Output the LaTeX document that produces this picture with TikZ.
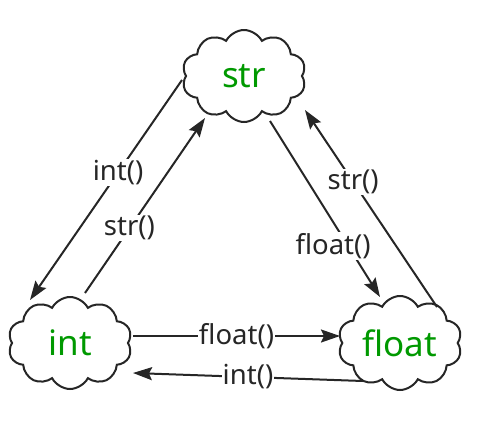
\documentclass[tikz,border=0pt]{standalone}
\usepackage{fontspec}
\setmainfont{Noto Sans}
\usetikzlibrary{shapes.symbols,arrows.meta}
\definecolor{ink}{HTML}{262626}
\definecolor{typegreen}{HTML}{009900}
\tikzset{
  typecloud/.style={cloud, cloud puffs=10, cloud puff arc=125, aspect=1.35,
    draw=ink, line width=2pt, fill=white,
    minimum width=124pt, minimum height=92pt, inner sep=0pt,
    text=typegreen, font=\fontsize{35}{37}\selectfont},
  conv/.style={draw=ink, line width=2pt,
    -{Stealth[length=19pt,width=13pt,inset=3pt]}},
  convlabel/.style={fill=white, text=ink, inner sep=1pt,
    font=\fontsize{27.5}{29}\selectfont}
}
\begin{document}
\begin{tikzpicture}[x=1pt,y=-1pt]
  \useasboundingbox (0,0) rectangle (477,421);
  % the three type clouds
  \node[typecloud] (str)   at (244,76)  {str};
  \node[typecloud] (int)   at (70,343)  {int};
  \node[typecloud] (float) at (400,343) {float};
  % conversions between str and int
  \draw[conv] ([shift={(-62,4)}]str.center) -- ([shift={(-40,-43)}]int.center)
    node[convlabel, pos=0.42] {int()};
  \draw[conv] ([shift={(15,-50)}]int.center) -- ([shift={(-39,42)}]str.center)
    node[convlabel, pos=0.37] {str()};
  % conversions between str and float
  \draw[conv] ([shift={(26,45)}]str.center) -- ([shift={(-20,-46)}]float.center)
    node[convlabel, pos=0.71, xshift=-15pt] {float()};
  \draw[conv] ([shift={(37,-36)}]float.center) -- ([shift={(61,34)}]str.center)
    node[convlabel, pos=0.635] {str()};
  % conversions between int and float
  \draw[conv] ([shift={(63,-7)}]int.center) -- ([shift={(-60,-7)}]float.center)
    node[convlabel, pos=0.5] {float()};
  \draw[conv] ([shift={(-37,38)}]float.center) -- ([shift={(63,30)}]int.center)
    node[convlabel, pos=0.5] {int()};
\end{tikzpicture}
\end{document}
